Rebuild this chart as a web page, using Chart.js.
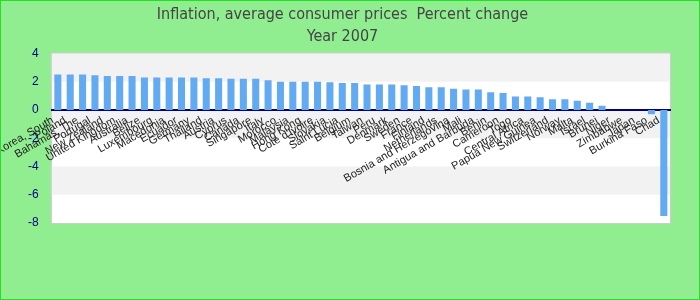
<!DOCTYPE html>
<html>
<head>
<meta charset="utf-8">
<script src="https://cdn.jsdelivr.net/npm/chart.js@4"></script>
<style>
    body { margin: 0; }
    #wrap {
        width: 700px;
        height: 300px;
        box-sizing: border-box;
        border: 1px solid #22e022;
        background: #90ee90;
    }
</style>
</head>
<body>
<div id="wrap"><canvas id="inflationChart" width="698" height="298"></canvas></div>
<script>
// Inflation, average consumer prices, percent change, 2007
const countries = [
    'Korea, South', 'Poland', 'Bahamas, The', 'Portugal', 'New Zealand',
    'United Kingdom', 'Australia', 'Belize', 'Luxembourg', 'Macedonia',
    'Ecuador', 'Germany', 'Thailand', 'Austria', 'Cyprus',
    'Canada', 'Singapore', 'Italy', 'Morocco', 'Malaysia',
    'Hong Kong', "Cote d'Ivoire", 'Slovakia', 'Saint Lucia', 'Belgium',
    'Taiwan', 'Peru', 'Denmark', 'Sweden', 'France',
    'Finland', 'Netherlands', 'Bosnia and Herzegovina', 'Mali', 'Antigua and Barbuda',
    'Benin', 'Cameroon', 'Togo', 'Central Africa', 'Papua New Guinea',
    'Switzerland', 'Norway', 'Malta', 'Israel', 'Brunei',
    'Niger', 'Zimbabwe', 'Japan', 'Burkina Faso', 'Chad'
];

const inflation = [
    2.5, 2.5, 2.5, 2.45, 2.4,
    2.4, 2.4, 2.3, 2.3, 2.3,
    2.3, 2.3, 2.25, 2.25, 2.2,
    2.2, 2.2, 2.1, 2.0, 2.0,
    2.0, 2.0, 1.95, 1.9, 1.9,
    1.8, 1.8, 1.8, 1.75, 1.7,
    1.6, 1.6, 1.5, 1.45, 1.45,
    1.25, 1.2, 0.95, 0.95, 0.9,
    0.75, 0.75, 0.65, 0.5, 0.3,
    0, 0, 0, -0.3, -7.5
];

const yMin = -8;
const yMax = 4;
const yStep = 2;

/**
 * Alternating grey / white bands behind the bars, plus the plot frame
 */
const plotBands = {
    id: 'plotBands',
    beforeDraw(chart) {
        const { ctx, chartArea, scales } = chart;
        const y = scales.y;
        ctx.save();
        ctx.fillStyle = '#ffffff';
        ctx.fillRect(chartArea.left, chartArea.top, chartArea.width, chartArea.height);
        for (let v = yMin, i = 0; v < yMax; v += yStep, i++) {
            if (i % 2 === 1) {
                const top = y.getPixelForValue(v + yStep);
                const bottom = y.getPixelForValue(v);
                ctx.fillStyle = '#f2f2f2';
                ctx.fillRect(chartArea.left, top, chartArea.width, bottom - top);
            }
        }
        ctx.strokeStyle = '#cccccc';
        ctx.lineWidth = 1;
        ctx.strokeRect(chartArea.left - 0.5, chartArea.top - 0.5, chartArea.width + 1, chartArea.height + 1);
        ctx.restore();
    }
};

const ctx = document.getElementById('inflationChart').getContext('2d');

new Chart(ctx, {
    type: 'bar',
    data: {
        labels: countries,
        datasets: [{
            label: 'Inflation',
            data: inflation,
            backgroundColor: '#62aaf2',
            borderWidth: 0,
            barPercentage: 0.57,
            categoryPercentage: 1
        }]
    },
    options: {
        responsive: false,
        animation: false,
        layout: {
            padding: { left: 14, right: 29, top: 0, bottom: 76 }
        },
        plugins: {
            legend: { display: false },
            tooltip: { enabled: false },
            title: {
                display: true,
                text: 'Inflation, average consumer prices  Percent change',
                color: '#444444',
                font: { family: "'Liberation Sans Narrow', 'DejaVu Sans Condensed', sans-serif", size: 16, weight: 'normal' },
                padding: { top: 4, bottom: 3 }
            },
            subtitle: {
                display: true,
                text: 'Year 2007',
                color: '#444444',
                font: { family: "'Liberation Sans Narrow', 'DejaVu Sans Condensed', sans-serif", size: 16, weight: 'normal' },
                padding: { top: 0, bottom: 7 }
            }
        },
        scales: {
            x: {
                type: 'category',
                position: { y: 0 },
                grid: { display: false, drawTicks: false },
                border: { color: '#000080', width: 2 },
                ticks: {
                    autoSkip: false,
                    minRotation: 30,
                    maxRotation: 30,
                    padding: 4,
                    labelOffset: -5,
                    color: '#222222',
                    font: { family: "'Liberation Sans', Arial, sans-serif", size: 11 }
                },
                afterFit: function(scale) {
                    scale.paddingLeft = 0;
                    scale.paddingRight = 0;
                }
            },
            y: {
                min: yMin,
                max: yMax,
                grid: { display: false, drawTicks: false },
                border: { display: false },
                ticks: {
                    stepSize: yStep,
                    padding: 13,
                    color: '#00008b',
                    font: { family: "'Liberation Sans', Arial, sans-serif", size: 12 }
                }
            }
        }
    },
    plugins: [plotBands]
});
</script>
</body>
</html>
